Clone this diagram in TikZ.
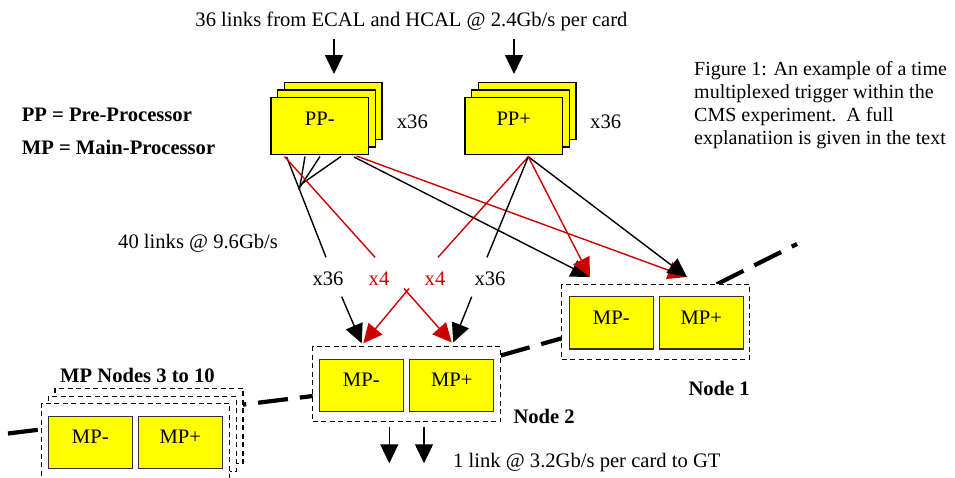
\documentclass[tikz,border=0pt]{standalone}
\usepackage{fontspec}
\setmainfont{Liberation Serif}
\usetikzlibrary{arrows.meta,calc}
\definecolor{lred}{RGB}{204,0,0}
\definecolor{byel}{RGB}{255,255,0}
\begin{document}
\begin{tikzpicture}[x=1pt,y=-1pt,
  txt/.style={font=\fontsize{20.6}{24}\selectfont, inner sep=0},
  ctxt/.style={font=\fontsize{20}{23.5}\selectfont, inner sep=0},
  btxt/.style={font=\fontsize{20.6}{24}\selectfont\bfseries, inner sep=0},
  ppbox/.style={draw=black, line width=1.4pt, fill=byel, minimum width=97.5pt, minimum height=57pt, inner sep=0, txt, text height=14pt, text depth=15.6pt},
  mpbox/.style={draw=black!80, line width=1.2pt, fill=byel, minimum width=84pt, minimum height=52.3pt, inner sep=0, txt, text height=14pt, text depth=11.6pt},
  group/.style={draw=black, dash pattern=on 5pt off 3.5pt, line width=1.1pt, fill=white, minimum width=188pt, minimum height=75pt, inner sep=0},
  chain/.style={line width=4.2pt, dash pattern=on 30pt off 12pt},
  blk/.style={draw=black, line width=1.4pt},
  rd/.style={draw=lred, line width=1.4pt},
  tipb/.style={-{Triangle[length=19pt,width=18pt]}},
]
\useasboundingbox (0,0) rectangle (955,477);

% ---------- texts ----------
\node[txt, anchor=base] (top) at (411.5,26.7) {36 links from ECAL and HCAL @ 2.4Gb/s per card};
\node[btxt, anchor=base west] (ppdef) at (21.7,121.7) {PP = Pre-Processor};
\node[btxt, anchor=base west] (mpdef) at (21.7,154.7) {MP = Main-Processor};
\node[ctxt, anchor=base west] (cap1) at (694,75) {Figure 1: An example of a time};
\node[ctxt, anchor=base west] (cap2) at (694,98) {multiplexed trigger within the};
\node[ctxt, anchor=base west] (cap3) at (694,121) {CMS experiment.\ \ A full};
\node[ctxt, anchor=base west] (cap4) at (694,144) {explanatiion is given in the text};
\node[txt, anchor=base west] (links40) at (118,248.3) {40 links @ 9.6Gb/s};
\node[txt, anchor=base] (la) at (328,285) {x36};
\node[txt, anchor=base, text=lred] (lb) at (379,285) {x4};
\node[txt, anchor=base, text=lred] (lc) at (435,285) {x4};
\node[txt, anchor=base] (ld) at (490,285) {x36};
\node[txt, anchor=base west] (x36a) at (396.7,128.3) {x36};
\node[txt, anchor=base west] (x36b) at (590,128.3) {x36};
\node[btxt, anchor=base west] (node1lab) at (688.3,395) {Node 1};
\node[btxt, anchor=base west] (node2lab) at (513.3,423.3) {Node 2};
\node[btxt, anchor=base west] (node3lab) at (60,382.7) {MP Nodes 3 to 10};
\node[txt, anchor=base west] (gtlab) at (453,467.7) {1 link @ 3.2Gb/s per card to GT};

% ---------- PP stacks ----------
\node[ppbox] (ppm3) at (333.1,111.1) {};
\node[ppbox] (ppm2) at (326.5,118.5) {};
\node[ppbox] (ppm) at (319.8,125.8) {PP-};
\node[ppbox] (ppp3) at (527.1,111.1) {};
\node[ppbox] (ppp2) at (520.5,118.5) {};
\node[ppbox] (ppp) at (513.8,125.8) {PP+};

% input arrows
\coordinate (in1) at (334,39);
\coordinate (in1e) at (334,74);
\coordinate (in2) at (514,39);
\coordinate (in2e) at (514,74);
\draw[blk, tipb] (in1) -- (in1e);
\draw[blk, tipb] (in2) -- (in2e);

% ---------- chain (thick dashed) ----------
\coordinate (chL) at (8,433.5);
\coordinate (n2w) at (312.7,396);
\coordinate (n2e) at (500.7,355.5);
\coordinate (n1w) at (561.7,338.3);
\coordinate (n1n) at (716.7,284.3);
\coordinate (chR) at (797,244);
\draw[chain] (chL) -- (n2w);
\draw[chain] (n2e) -- (n1w);
\draw[chain] (n1n) -- (chR);

% ---------- MP groups ----------
\node[group] (s3) at (149,425.8) {};
\node[group] (s2) at (142.3,434.2) {};
\node[group] (s1) at (135.7,440.8) {};
\node[mpbox] (s1m) at (90.3,442.7) {MP-};
\node[mpbox] (s1p) at (180.3,442.7) {MP+};

\node[group] (n2) at (406.7,384.2) {};
\node[mpbox] (n2m) at (361.3,385.5) {MP-};
\node[mpbox] (n2p) at (451.7,385.5) {MP+};

\node[group] (n1) at (655.8,321.8) {};
\node[mpbox] (n1m) at (611.3,322.8) {MP-};
\node[mpbox] (n1p) at (701.3,322.8) {MP+};

% ---------- PP- connectors ----------
\coordinate (pmA) at (286.7,157);
\coordinate (pmR) at (284.5,156.5);
\coordinate (pmF1) at (305,156.5);
\coordinate (pmF2) at (320,156.5);
\coordinate (pmF3) at (341,156.5);
\coordinate (pmB) at (354,157);
\coordinate (pmC) at (356.5,156);
\coordinate (ea) at (326,257.3);
\coordinate (eb) at (375,257.3);
\coordinate (ec) at (438,257.3);
\coordinate (ed) at (487,257.3);
\coordinate (t1) at (590,277);
\coordinate (t2) at (687,277);
\draw[blk] (pmA) -- (ea);
\draw[blk] (pmF1) -- (299.3,190);
\draw[blk] (pmF2) -- (300.3,186.5);
\draw[blk] (pmF3) -- (301.5,184);
\draw[rd] (pmR) -- (eb);
\draw[blk, tipb] (pmB) -- (t1);
\draw[rd, tipb] (pmC) -- (t2);

% ---------- PP+ connectors ----------
\coordinate (ppS) at (528.3,156.7);
\draw[rd] (ppS) -- (ec);
\draw[blk] (ppS) -- (ed);
\draw[blk, tipb] (ppS) -- (t2);
\draw[rd, tipb] (ppS) -- (t1);

% ---------- into Node 2 ----------
\coordinate (sa) at (341.7,296.7);
\coordinate (sd) at (471.7,296.7);
\coordinate (xr) at (409,288.5);
\coordinate (xl) at (404,288.5);
\coordinate (ta) at (361.7,343.3);
\coordinate (tb) at (363.3,343.3);
\coordinate (tc) at (451.7,342.5);
\coordinate (td) at (453.3,342.5);
\draw[blk, tipb] (sa) -- (ta);
\draw[blk, tipb] (sd) -- (td);
\draw[rd, tipb] (xr) -- (tb);
\draw[rd, tipb] (xl) -- (tc);

% ---------- outputs ----------
\coordinate (o1) at (389.3,426.7);
\coordinate (o1e) at (389.3,463.3);
\coordinate (o2) at (424,426.7);
\coordinate (o2e) at (424,463.3);
\draw[blk, tipb] (o1) -- (o1e);
\draw[blk, tipb] (o2) -- (o2e);
\end{tikzpicture}
\end{document}
